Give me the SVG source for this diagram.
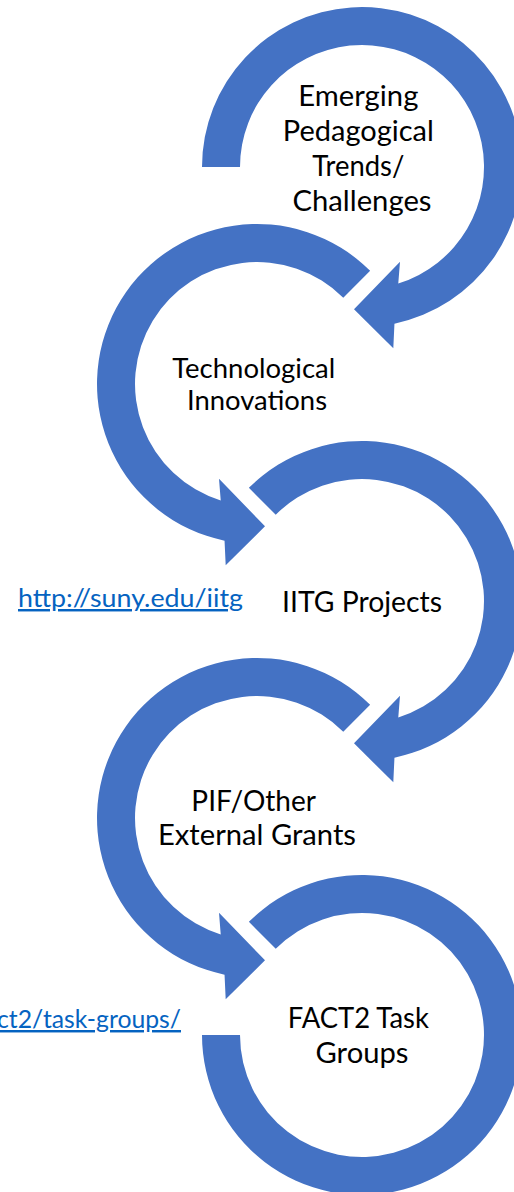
<svg xmlns="http://www.w3.org/2000/svg" xmlns:xlink="http://www.w3.org/1999/xlink" width="514" height="1192" viewBox="0 0 514 1192">
<style>
.ring{fill:#4472C4;stroke:none}
.lbl{font-family:Lato,"Open Sans","Liberation Sans",sans-serif;fill:#000;text-anchor:middle}
.link{font-family:Lato,"Open Sans","Liberation Sans",sans-serif;fill:#0563C1;text-decoration:underline;font-size:24.5px}
</style>
<defs>
<path id="arcFirst" d="M -160,0 A160,160 0 1 1 32.45,156.68 L 31.3,181.3 L -8,142.3 L 38,94.7 L 36.28,116.48 A122,122 0 1 0 -122,0 Z"/>
<path id="arcMid" d="M -113.14,-113.14 A160,160 0 1 1 32.45,156.68 L 31.3,181.3 L -8,142.3 L 38,94.7 L 36.28,116.48 A122,122 0 1 0 -86.27,-86.27 Z"/>
<path id="arcLast" d="M -113.14,-113.14 A160,160 0 1 1 -160,0 L -122,0 A122,122 0 1 0 -86.27,-86.27 Z"/>
</defs>
<rect width="514" height="1192" fill="#fff"/>
<g id="connectors">
<use xlink:href="#arcFirst" class="ring" transform="translate(362,167)"/>
<use xlink:href="#arcMid" class="ring" transform="translate(257,384) scale(-1,1)"/>
<use xlink:href="#arcMid" class="ring" transform="translate(362,601)"/>
<use xlink:href="#arcMid" class="ring" transform="translate(257,818) scale(-1,1)"/>
<use xlink:href="#arcLast" class="ring" transform="translate(362,1035)"/>
</g>
<g id="node1">
<text class="lbl" font-size="28.5">
<tspan x="362" y="106" textLength="120" lengthAdjust="spacingAndGlyphs">Emerging</tspan>
<tspan x="362" y="141" textLength="151" lengthAdjust="spacingAndGlyphs">Pedagogical</tspan>
<tspan x="362" y="176" textLength="92" lengthAdjust="spacingAndGlyphs">Trends/</tspan>
<tspan x="362" y="211" textLength="139" lengthAdjust="spacingAndGlyphs">Challenges</tspan>
</text>
</g>
<g id="node2">
<text class="lbl" font-size="26">
<tspan x="257" y="378" textLength="163" lengthAdjust="spacingAndGlyphs">Technological</tspan>
<tspan x="257" y="410" textLength="140" lengthAdjust="spacingAndGlyphs">Innovations</tspan>
</text>
</g>
<g id="node3">
<text class="lbl" font-size="28.5" x="362" y="612" textLength="160" lengthAdjust="spacingAndGlyphs">IITG Projects</text>
<text class="link" x="18" y="607" textLength="225" lengthAdjust="spacingAndGlyphs">http://suny.edu/iitg</text>
</g>
<g id="node4">
<text class="lbl" font-size="28.5">
<tspan x="257" y="811" textLength="124" lengthAdjust="spacingAndGlyphs">PIF/Other</tspan>
<tspan x="257" y="845" textLength="198" lengthAdjust="spacingAndGlyphs">External Grants</tspan>
</text>
</g>
<g id="node5">
<text class="lbl" font-size="28.5">
<tspan x="362" y="1028" textLength="141" lengthAdjust="spacingAndGlyphs">FACT2 Task</tspan>
<tspan x="362" y="1063" textLength="93" lengthAdjust="spacingAndGlyphs">Groups</tspan>
</text>
<text class="link" x="181" y="1028" text-anchor="end" textLength="184" lengthAdjust="spacingAndGlyphs">ct2/task-groups/</text>
</g>
</svg>
